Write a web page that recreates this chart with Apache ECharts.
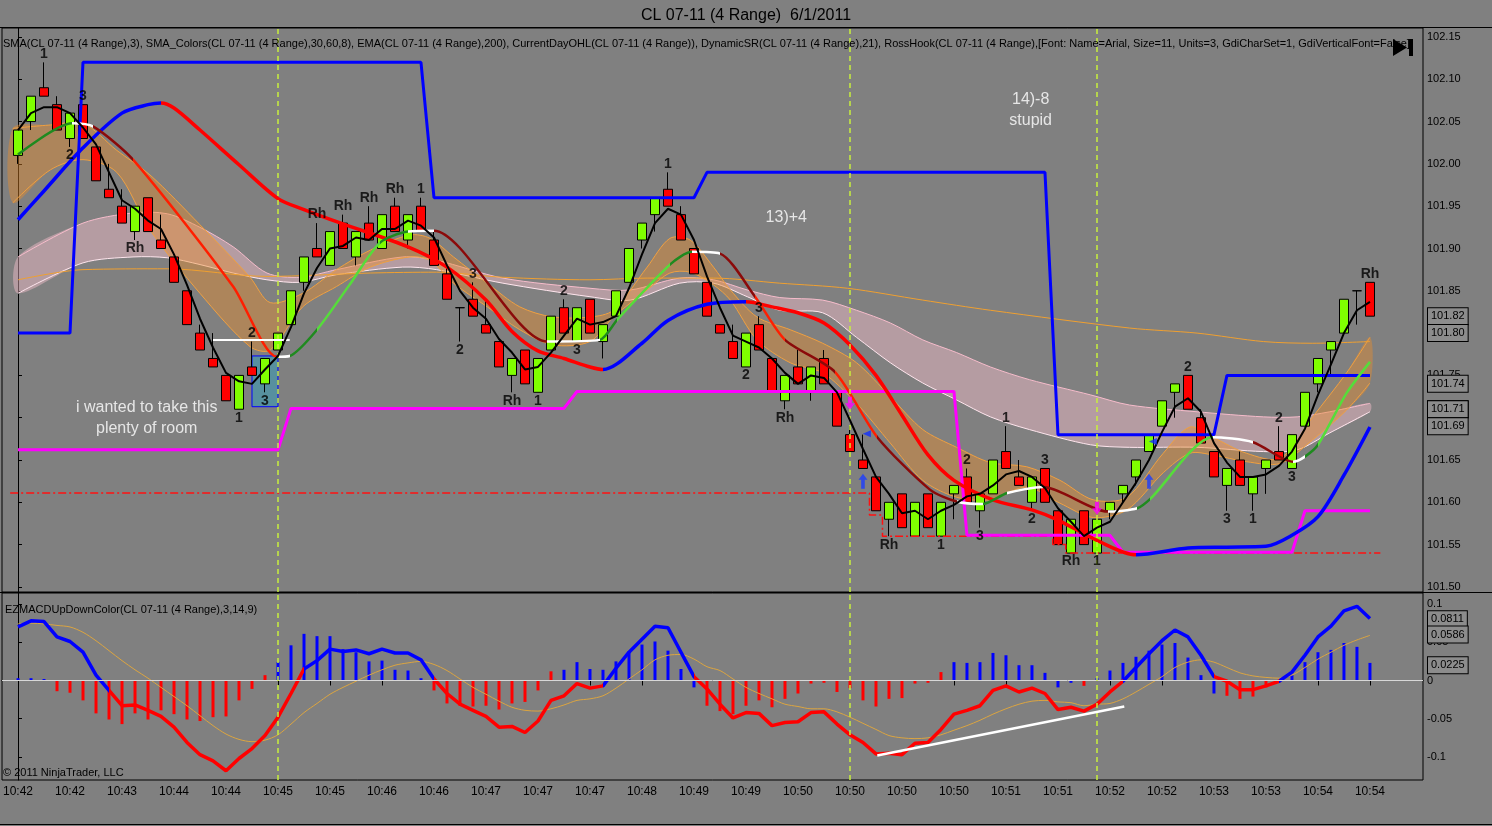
<!DOCTYPE html>
<html>
<head>
<meta charset="utf-8">
<title>CL 07-11 (4 Range) 6/1/2011</title>
<script src="https://cdn.jsdelivr.net/npm/echarts@6/dist/echarts.min.js"></script>
<style>
  html, body { margin: 0; padding: 0; background: #808080; }
  #main { width: 1492px; height: 826px; }
</style>
</head>
<body>
<div id="main"></div>
<script type="text/javascript">
// ---- data ----
// time label every 4th bar
const timeLabels = ['10:42', '10:42', '10:43', '10:44', '10:44', '10:45', '10:45', '10:46', '10:46',
  '10:47', '10:47', '10:47', '10:48', '10:49', '10:49', '10:50', '10:50', '10:50', '10:50',
  '10:51', '10:51', '10:52', '10:52', '10:53', '10:53', '10:54', '10:54'];

// range bars: [open, close, low, high]
const candles = [
  [102.01, 102.04, 102.00, 102.04], [102.05, 102.08, 102.04, 102.08], [102.09, 102.08, 102.08, 102.12],
  [102.07, 102.04, 102.04, 102.08], [102.03, 102.06, 102.02, 102.06], [102.07, 102.03, 102.03, 102.07],
  [102.02, 101.98, 101.98, 102.02], [101.97, 101.96, 101.96, 102.00], [101.95, 101.93, 101.93, 101.97],
  [101.92, 101.95, 101.91, 101.95], [101.96, 101.92, 101.92, 101.96], [101.91, 101.90, 101.90, 101.94],
  [101.89, 101.86, 101.86, 101.89], [101.85, 101.81, 101.81, 101.85], [101.80, 101.78, 101.78, 101.81],
  [101.77, 101.76, 101.76, 101.80], [101.75, 101.72, 101.72, 101.75], [101.71, 101.75, 101.71, 101.75],
  [101.76, 101.75, 101.75, 101.79], [101.74, 101.77, 101.73, 101.77], [101.78, 101.80, 101.78, 101.80],
  [101.81, 101.85, 101.81, 101.85], [101.86, 101.89, 101.85, 101.89], [101.90, 101.89, 101.89, 101.93],
  [101.88, 101.92, 101.88, 101.92], [101.93, 101.90, 101.90, 101.94], [101.89, 101.92, 101.88, 101.92],
  [101.93, 101.91, 101.91, 101.95], [101.90, 101.94, 101.90, 101.94], [101.95, 101.92, 101.92, 101.96],
  [101.91, 101.94, 101.90, 101.94], [101.95, 101.92, 101.92, 101.96], [101.91, 101.88, 101.88, 101.92],
  [101.87, 101.84, 101.84, 101.88], [101.83, 101.83, 101.79, 101.83], [101.84, 101.82, 101.82, 101.86],
  [101.81, 101.80, 101.80, 101.84], [101.79, 101.76, 101.76, 101.79], [101.75, 101.77, 101.73, 101.77],
  [101.78, 101.74, 101.74, 101.78], [101.73, 101.77, 101.73, 101.77], [101.78, 101.82, 101.78, 101.82],
  [101.83, 101.80, 101.80, 101.84], [101.79, 101.83, 101.79, 101.83], [101.84, 101.80, 101.80, 101.84],
  [101.79, 101.81, 101.77, 101.81], [101.82, 101.85, 101.82, 101.85], [101.86, 101.90, 101.86, 101.90],
  [101.91, 101.93, 101.90, 101.93], [101.94, 101.96, 101.92, 101.96], [101.97, 101.95, 101.95, 101.99],
  [101.94, 101.91, 101.91, 101.95], [101.90, 101.87, 101.87, 101.90], [101.86, 101.82, 101.82, 101.86],
  [101.81, 101.80, 101.80, 101.81], [101.79, 101.77, 101.77, 101.81], [101.76, 101.80, 101.76, 101.80],
  [101.81, 101.78, 101.78, 101.82], [101.77, 101.73, 101.73, 101.77], [101.72, 101.75, 101.71, 101.75],
  [101.76, 101.74, 101.74, 101.78], [101.73, 101.76, 101.72, 101.76], [101.77, 101.74, 101.74, 101.78],
  [101.73, 101.69, 101.69, 101.73], [101.68, 101.66, 101.66, 101.69], [101.65, 101.64, 101.64, 101.68],
  [101.63, 101.59, 101.59, 101.63], [101.58, 101.60, 101.56, 101.60], [101.61, 101.57, 101.57, 101.61],
  [101.56, 101.60, 101.56, 101.60], [101.61, 101.57, 101.57, 101.61], [101.56, 101.60, 101.56, 101.60],
  [101.61, 101.62, 101.58, 101.62], [101.63, 101.60, 101.60, 101.64], [101.59, 101.61, 101.57, 101.61],
  [101.61, 101.65, 101.61, 101.65], [101.66, 101.64, 101.64, 101.69], [101.63, 101.62, 101.62, 101.65],
  [101.60, 101.63, 101.59, 101.63], [101.64, 101.60, 101.60, 101.64], [101.59, 101.55, 101.55, 101.59],
  [101.54, 101.58, 101.54, 101.58], [101.59, 101.55, 101.55, 101.59], [101.54, 101.58, 101.54, 101.58],
  [101.59, 101.60, 101.58, 101.60], [101.61, 101.62, 101.60, 101.62], [101.63, 101.65, 101.62, 101.65],
  [101.66, 101.68, 101.66, 101.68], [101.69, 101.72, 101.69, 101.72], [101.73, 101.74, 101.70, 101.74],
  [101.75, 101.71, 101.71, 101.75], [101.70, 101.67, 101.67, 101.71], [101.66, 101.63, 101.63, 101.66],
  [101.62, 101.64, 101.59, 101.64], [101.65, 101.62, 101.62, 101.66], [101.61, 101.63, 101.59, 101.63],
  [101.64, 101.65, 101.61, 101.65], [101.66, 101.65, 101.65, 101.69], [101.64, 101.68, 101.64, 101.68],
  [101.69, 101.73, 101.69, 101.73], [101.74, 101.77, 101.73, 101.77], [101.78, 101.79, 101.75, 101.79],
  [101.80, 101.84, 101.80, 101.84], [101.85, 101.85, 101.81, 101.85], [101.86, 101.82, 101.82, 101.86]
];

// black SMA(3), one value per bar
const sma3 = [
  102.040, 102.060, 102.067, 102.067, 102.060, 102.043, 102.023, 101.990, 101.957, 101.947,
  101.933, 101.923, 101.893, 101.857, 101.817, 101.783, 101.753, 101.743, 101.740, 101.757,
  101.773, 101.807, 101.847, 101.877, 101.900, 101.903, 101.913, 101.910, 101.923, 101.923,
  101.933, 101.927, 101.913, 101.880, 101.850, 101.830, 101.817, 101.793, 101.777, 101.757,
  101.760, 101.777, 101.797, 101.817, 101.810, 101.813, 101.820, 101.853, 101.893, 101.930,
  101.947, 101.940, 101.910, 101.867, 101.830, 101.797, 101.790, 101.783, 101.770, 101.753,
  101.740, 101.750, 101.747, 101.730, 101.697, 101.663, 101.630, 101.610, 101.587, 101.590,
  101.580, 101.590, 101.597, 101.607, 101.610, 101.620, 101.633, 101.637, 101.630, 101.617,
  101.593, 101.577, 101.560, 101.570, 101.577, 101.600, 101.623, 101.650, 101.683, 101.713,
  101.723, 101.707, 101.670, 101.647, 101.630, 101.630, 101.633, 101.643, 101.660, 101.687,
  101.727, 101.763, 101.800, 101.827, 101.837
];

// thick slow average (blue rising / red falling): [bar, price]
const slowSma = [
  [0, 101.934], [2, 101.968], [5, 102.019], [8, 102.060], [10, 102.070], [11, 102.072], [12, 102.066],
  [14, 102.040], [17, 101.999], [20, 101.959], [22, 101.946], [25, 101.929], [30, 101.902], [33, 101.878],
  [36, 101.839], [38, 101.802], [40, 101.779], [42, 101.770], [44, 101.760], [45, 101.757], [48, 101.788],
  [50, 101.815], [53, 101.834], [56, 101.837], [58, 101.831], [60, 101.824], [62, 101.812], [64, 101.786],
  [66, 101.750], [68, 101.703], [70, 101.656], [72, 101.626], [75, 101.603], [78, 101.591], [80, 101.579],
  [83, 101.555], [86, 101.538], [90, 101.546], [93, 101.547], [96, 101.548], [98, 101.561], [100, 101.583],
  [102, 101.632], [104, 101.689]
];

// SMA_Colors middle line: [bar, price]; trend of each segment (2 up fast, 1 up, 0 flat, -1 down, -2 down fast)
const midSma = [
  [0, 102.011], [4.15, 102.048], [5.8, 102.044], [8.85, 102.005], [16.55, 101.855], [19.9, 101.772],
  [20.9, 101.773], [23, 101.804], [25.5, 101.857], [27.85, 101.907], [30, 101.920], [32, 101.921],
  [40.7, 101.790], [44.75, 101.792], [46.1, 101.816], [50.15, 101.881], [51.85, 101.896], [54, 101.894],
  [56.7, 101.843], [59, 101.792], [62.85, 101.754], [66.1, 101.677], [70.15, 101.615], [72.2, 101.601],
  [74.2, 101.598], [76.1, 101.611], [78.85, 101.618], [83.85, 101.589], [86.1, 101.593], [87.1, 101.604],
  [91.9, 101.677], [95, 101.671], [98.1, 101.648], [99, 101.654], [100, 101.668], [102.2, 101.729],
  [104, 101.766]
];
const midTrend = [1, 0, -1, -2, -2, 0, 1, 2, 2, 1, 0, -1, 0, 1, 2, 1, 0, -1, -2, -1, -2, -1, -1, 0, 1, 0,
  -1, 0, 1, 2, 0, -1, 0, 1, 2, 2];

// EMA(200) thin orange line
const ema200 = [
  [0, 101.863], [5, 101.875], [11.5, 101.876], [19.15, 101.867], [27.1, 101.871], [32.2, 101.872],
  [37.3, 101.866], [44, 101.863], [48.4, 101.865], [53.5, 101.865], [58.6, 101.859], [63.8, 101.853],
  [69.6, 101.839], [74.8, 101.827], [85.5, 101.806], [90.7, 101.800], [95.8, 101.790], [99.6, 101.788],
  [104, 101.790]
];

// orange envelope: [bar, upper, lower]
const orangeBand = [
  [-0.4, 102.042, 101.954], [2.5, 102.046, 101.993], [5, 102.048, 102.005], [7.6, 102.016, 101.990],
  [10.15, 101.987, 101.922], [14, 101.928, 101.847], [17.85, 101.866, 101.784], [19.4, 101.836, 101.780],
  [21.9, 101.847, 101.831], [24.5, 101.875, 101.855], [27.1, 101.898, 101.878], [30.15, 101.916, 101.890],
  [31.7, 101.912, 101.886], [33.5, 101.890, 101.859], [36.1, 101.859, 101.831], [38.6, 101.831, 101.804],
  [41.15, 101.819, 101.786], [44, 101.819, 101.790], [45.8, 101.827, 101.819], [48.4, 101.878, 101.851],
  [50.15, 101.912, 101.871], [51.7, 101.910, 101.872], [53.5, 101.878, 101.857], [54.8, 101.851, 101.839],
  [56.85, 101.819, 101.792], [59.4, 101.804, 101.765], [61.9, 101.788, 101.753], [64.5, 101.765, 101.717],
  [67.1, 101.725, 101.670], [69.6, 101.686, 101.626], [72.2, 101.665, 101.606], [74.8, 101.647, 101.603],
  [77.6, 101.642, 101.618], [80.15, 101.626, 101.599], [82.7, 101.603, 101.582], [85.3, 101.606, 101.591],
  [88.1, 101.658, 101.635], [90.15, 101.689, 101.658], [91.9, 101.677, 101.656], [94.5, 101.658, 101.648],
  [97.1, 101.652, 101.646], [99.6, 101.701, 101.674], [102.2, 101.753, 101.709], [104, 101.795, 101.741]
];

// pink envelope: [bar, upper, lower]
const pinkBand = [
  [0, 101.890, 101.847], [5, 101.930, 101.883], [8.85, 101.942, 101.890], [11.5, 101.941, 101.889],
  [14, 101.925, 101.881], [16.55, 101.902, 101.871], [19.15, 101.871, 101.863], [21.7, 101.866, 101.860],
  [24.5, 101.875, 101.869], [29.6, 101.890, 101.878], [32.2, 101.886, 101.875], [37.3, 101.865, 101.859],
  [44, 101.853, 101.843], [47.1, 101.851, 101.839], [50.9, 101.865, 101.859], [53.5, 101.863, 101.859],
  [56.1, 101.851, 101.843], [58.6, 101.842, 101.827], [61.9, 101.839, 101.824], [64.5, 101.827, 101.795],
  [67.1, 101.812, 101.765], [69.6, 101.792, 101.741], [72.2, 101.777, 101.721], [74.8, 101.760, 101.701],
  [77.8, 101.745, 101.686], [82.5, 101.727, 101.668], [85.5, 101.715, 101.665], [90.7, 101.707, 101.665],
  [95.8, 101.701, 101.660], [98.4, 101.701, 101.662], [100.9, 101.707, 101.682], [104, 101.717, 101.707]
];

// DynamicSR steps
const resistance = [[0, 101.80], [4, 101.80], [5, 102.12], [31, 102.12], [32, 101.96], [52, 101.96],
  [53, 101.99], [79, 101.99], [80, 101.68], [92, 101.68], [93, 101.75], [104, 101.75]];
const support = [[0, 101.662], [20, 101.662], [21, 101.711], [42, 101.711], [43, 101.731], [72, 101.731],
  [73, 101.561], [84, 101.561], [85, 101.541], [98, 101.541], [99, 101.59], [104, 101.59]];
// CurrentDayOHL low (step)
const dayLow = [[-0.6, 101.611], [65.5, 101.585], [66.5, 101.56], [79.6, 101.55], [80.6, 101.54], [104.8, 101.54]];

// RossHook labels: [bar, text, a = above high / b = below low]
const hookLabels = [
  [2, '1', 'a'], [4, '2', 'b'], [5, '3', 'a'], [9, 'Rh', 'b'], [17, '1', 'b'], [18, '2', 'a'], [19, '3', 'b'],
  [23, 'Rh', 'a'], [25, 'Rh', 'a'], [27, 'Rh', 'a'], [29, 'Rh', 'a'], [31, '1', 'a'], [34, '2', 'b'],
  [35, '3', 'a'], [38, 'Rh', 'b'], [40, '1', 'b'], [42, '2', 'a'], [43, '3', 'b'], [50, '1', 'a'],
  [56, '2', 'b'], [57, '3', 'a'], [59, 'Rh', 'b'], [67, 'Rh', 'b'], [71, '1', 'b'], [73, '2', 'a'],
  [74, '3', 'b'], [76, '1', 'a'], [78, '2', 'b'], [79, '3', 'a'], [81, 'Rh', 'b'], [83, '1', 'b'],
  [90, '2', 'a'], [93, '3', 'b'], [95, '1', 'b'], [97, '2', 'a'], [98, '3', 'b'], [104, 'Rh', 'a']
];
const upArrows = [[65, 101.625], [87, 101.625]];
const blueFlags = [[65.3, 101.681], [87.3, 101.672]];
const magentaMarks = [[64, 101.717], [83, 101.593]];
const notes = [[9.9, 101.70, 'i wanted to take this\nplenty of room'], [59.1, 101.937, '13)+4'],
  [77.9, 102.063, '14)-8\nstupid']];
const entryBox = [[18, 101.773], [20, 101.713]];
const entryLine = [[15, 101.792], [20.9, 101.792]];
const markerBars = [20, 64, 83];
const priceBoxes = [101.816, 101.797, 101.740, 101.714, 101.708, 101.691];
const priceTicks = [101.50, 101.55, 101.60, 101.65, 101.70, 101.75, 101.80, 101.85, 101.90, 101.95,
  102.00, 102.05, 102.10, 102.15];

// EZMACD panel, one value per bar
const macd = [
  0.070, 0.078, 0.077, 0.057, 0.051, 0.037, 0.007, -0.013, -0.033, -0.032,
  -0.039, -0.047, -0.061, -0.081, -0.097, -0.105, -0.118, -0.102, -0.089, -0.072,
  -0.048, -0.017, 0.015, 0.026, 0.041, 0.038, 0.040, 0.035, 0.041, 0.036,
  0.036, 0.027, 0.002, -0.017, -0.031, -0.039, -0.047, -0.061, -0.060, -0.068,
  -0.053, -0.026, -0.020, -0.004, -0.010, -0.007, 0.016, 0.037, 0.054, 0.071,
  0.069, 0.037, 0.005, -0.011, -0.031, -0.049, -0.042, -0.043, -0.059, -0.055,
  -0.054, -0.042, -0.041, -0.057, -0.071, -0.081, -0.096, -0.095, -0.097, -0.082,
  -0.081, -0.064, -0.044, -0.039, -0.033, -0.013, -0.007, -0.015, -0.010, -0.017,
  -0.038, -0.035, -0.040, -0.031, -0.015, -0.001, 0.017, 0.035, 0.052, 0.066,
  0.057, 0.033, 0.005, -0.001, -0.012, -0.012, -0.007, -0.001, 0.011, 0.033,
  0.057, 0.071, 0.091, 0.097, 0.081
];
const signal = [
  0.074, 0.075, 0.074, 0.072, 0.070, 0.063, 0.052, 0.039, 0.026, 0.014,
  0.003, -0.009, -0.021, -0.033, -0.046, -0.059, -0.070, -0.077, -0.080, -0.078,
  -0.071, -0.057, -0.042, -0.030, -0.018, -0.009, -0.001, 0.007, 0.014, 0.020,
  0.023, 0.025, 0.021, 0.013, 0.002, -0.009, -0.018, -0.027, -0.035, -0.039,
  -0.040, -0.037, -0.032, -0.026, -0.024, -0.020, -0.010, 0.002, 0.014, 0.027,
  0.033, 0.034, 0.028, 0.018, 0.013, 0.002, -0.009, -0.017, -0.024, -0.031,
  -0.034, -0.037, -0.037, -0.041, -0.048, -0.056, -0.064, -0.072, -0.075, -0.076,
  -0.075, -0.071, -0.065, -0.059, -0.052, -0.044, -0.037, -0.031, -0.027, -0.026,
  -0.028, -0.029, -0.033, -0.031, -0.030, -0.024, -0.015, -0.005, 0.005, 0.017,
  0.024, 0.027, 0.024, 0.017, 0.010, 0.006, 0.004, 0.003, 0.007, 0.017,
  0.028, 0.037, 0.046, 0.053, 0.059
];
const hist = [
  0.003, 0.003, 0.002, -0.014, -0.016, -0.026, -0.043, -0.051, -0.057, -0.043,
  -0.051, -0.039, -0.044, -0.051, -0.053, -0.048, -0.047, -0.026, -0.011, 0.007,
  0.024, 0.046, 0.061, 0.058, 0.058, 0.041, 0.037, 0.025, 0.026, 0.014,
  0.013, 0.003, -0.013, -0.030, -0.033, -0.034, -0.033, -0.038, -0.030, -0.028,
  -0.013, 0.012, 0.014, 0.024, 0.015, 0.014, 0.025, 0.038, 0.047, 0.051,
  0.039, 0.015, -0.009, -0.033, -0.040, -0.044, -0.033, -0.026, -0.035, -0.024,
  -0.017, -0.004, -0.003, -0.015, -0.010, -0.026, -0.034, -0.024, -0.023, -0.004,
  -0.003, 0.011, 0.024, 0.023, 0.024, 0.036, 0.033, 0.020, 0.020, 0.010,
  -0.009, -0.003, -0.007, 0.003, 0.013, 0.023, 0.031, 0.039, 0.047, 0.049,
  0.030, 0.007, -0.017, -0.020, -0.024, -0.021, -0.009, -0.003, 0.007, 0.024,
  0.037, 0.040, 0.049, 0.044, 0.023
];
// histogram colour state as runs: b = up colour, r = down colour
const histRuns = [['b', 3], ['r', 17], ['b', 12], ['r', 10], ['b', 11], ['r', 19], ['b', 10], ['r', 1],
  ['b', 10], ['r', 5], ['b', 7]];
// bar ranges where the MACD line is drawn blue
const macdBlue = [[0, 7], [22, 32], [45, 52], [85, 92], [97, 104]];
const macdTrend = [[66.1, -0.098], [85.1, -0.034]];
const macdBoxes = [0.0811, 0.0586, 0.0225];
const macdTicks = [-0.1, -0.05, 0, 0.05, 0.1];

// ---- chart ----
const FONT = '"Liberation Sans", Arial, sans-serif';
const X_MIN = -1.23, X_MAX = 108.08;
const BLUE = '#0000ff', RED = '#ff0000';
const trendColor = { '2': '#55dd3a', '1': '#1f8a1f', '0': '#ffffff', '-1': '#8b0a0a', '-2': '#ff1e00' };

const myChart = echarts.init(document.getElementById('main'));

const perBar = arr => arr.map((v, i) => [i, v]);
const histColors = [];
histRuns.forEach(r => { for (let k = 0; k < r[1]; k++) histColors.push(r[0] === 'b' ? BLUE : RED); });

// colours applied between successive x breakpoints
function xPieces(xs, colors) {
  const pieces = [];
  colors.forEach((c, k) => {
    const lo = k === 0 ? X_MIN - 5 : xs[k];
    const hi = k === colors.length - 1 ? X_MAX + 5 : xs[k + 1];
    const last = pieces[pieces.length - 1];
    if (last && last.color === c) { last.lt = hi; return; }
    pieces.push({ gte: lo, lt: hi, color: c });
  });
  return pieces;
}

function bandSeries(band, fill, topEdge, bottomEdge) {
  return {
    type: 'custom', xAxisIndex: 0, yAxisIndex: 0, z: 1, silent: true, clip: true,
    data: [[0, 101.8]],
    renderItem: function (params, api) {
      const top = band.map(p => api.coord([p[0], p[1]]));
      const bot = band.map(p => api.coord([p[0], p[2]]));
      return {
        type: 'group',
        children: [
          { type: 'polygon', shape: { points: top.concat(bot.slice().reverse()), smooth: 0.3 }, style: { fill: fill } },
          { type: 'polyline', shape: { points: top, smooth: 0.3 }, style: { stroke: topEdge, lineWidth: 1, fill: null } },
          { type: 'polyline', shape: { points: bot, smooth: 0.3 }, style: { stroke: bottomEdge, lineWidth: 1, fill: null } }
        ]
      };
    }
  };
}

// value box on the right axis, placed by the axis scale
function valueBox(v, digits) {
  return {
    yAxis: v,
    lineStyle: { color: 'rgba(0,0,0,0)', width: 0 },
    label: {
      show: true, position: 'end', distance: 5, formatter: v.toFixed(digits), color: '#000', fontSize: 11,
      fontFamily: FONT, backgroundColor: '#8c8c8c', borderColor: '#000', borderWidth: 1, padding: [3, 3, 2, 3]
    }
  };
}

const series = [];
const add = s => { series.push(s); return series.length - 1; };

add(bandSeries(pinkBand, 'rgba(255,195,210,0.42)', '#f6bccb', '#ffe6ee'));
add(bandSeries(orangeBand, 'rgba(236,140,40,0.42)', '#f0a040', '#f0a040'));

add({
  name: 'EMA', type: 'line', data: ema200, smooth: 0.3, showSymbol: false, z: 2, silent: true,
  lineStyle: { color: '#f0a030', width: 1 }
});

add({
  type: 'candlestick', data: candles.map((c, i) => [i, c[0], c[1], c[2], c[3]]),
  encode: { x: 0, y: [1, 2, 3, 4] }, barWidth: 9, z: 3, silent: true,
  itemStyle: { color: '#80ff00', color0: '#ff0000', borderColor: '#000', borderColor0: '#000', borderWidth: 1 },
  markArea: {
    silent: true,
    itemStyle: { color: 'rgba(20,170,210,0.38)', borderColor: '#0000ff', borderWidth: 1 },
    data: [[{ coord: entryBox[0] }, { coord: entryBox[1] }]]
  },
  markLine: {
    silent: true, symbol: ['none', 'none'], animation: false, label: { show: false },
    lineStyle: { color: '#c8f03c', type: [5, 4], width: 1.5 },
    data: markerBars.map(b => ({ xAxis: b }))
  }
});

add({ type: 'line', data: dayLow, step: 'end', showSymbol: false, z: 4, silent: true,
  lineStyle: { color: '#ff1010', width: 1.5, type: [8, 3, 2, 3] } });
add({ type: 'line', data: resistance, showSymbol: false, z: 4, silent: true, lineStyle: { color: BLUE, width: 3 } });
add({ type: 'line', data: support, showSymbol: false, z: 4, silent: true, lineStyle: { color: '#ff00ff', width: 3 } });

const slowIdx = add({ type: 'line', data: slowSma, smooth: 0.3, showSymbol: false, z: 4, silent: true,
  lineStyle: { width: 3.5 } });
const midIdx = add({ type: 'line', data: midSma, smooth: 0.25, showSymbol: false, z: 4, silent: true,
  lineStyle: { width: 2.5 } });

add({
  type: 'line', data: perBar(sma3), showSymbol: false, z: 5, silent: true, lineStyle: { color: '#000', width: 2 },
  markLine: {
    silent: true, symbol: ['none', 'none'], animation: false, label: { show: false },
    lineStyle: { color: '#fff', width: 2, type: 'solid' },
    data: [[{ coord: entryLine[0] }, { coord: entryLine[1] }]]
  }
});

add({
  type: 'scatter', symbolSize: 1, itemStyle: { color: 'rgba(0,0,0,0)' }, z: 6, silent: true,
  label: { show: true, formatter: p => p.value[2], distance: 1, color: '#000', fontWeight: 'bold', fontSize: 14, fontFamily: FONT },
  data: hookLabels.map(h => {
    const c = candles[h[0]];
    const above = h[2] === 'a';
    return { value: [h[0], above ? c[3] : c[2], h[1]], label: { position: above ? 'top' : 'bottom' } };
  })
});
add({
  type: 'scatter', symbolSize: 1, itemStyle: { color: 'rgba(0,0,0,0)' }, z: 6, silent: true,
  label: { show: true, position: 'inside', formatter: p => p.value[2], color: '#fff', fontSize: 16, lineHeight: 21, align: 'center', fontFamily: FONT },
  data: notes
});
add({ type: 'scatter', data: upArrows, z: 6, silent: true, symbol: 'path://M5,0 L10,6 L7,6 L7,15 L3,15 L3,6 L0,6 Z',
  symbolSize: [9, 15], itemStyle: { color: '#1a3cff' } });
add({ type: 'scatter', data: blueFlags, z: 6, silent: true, symbol: 'triangle', symbolRotate: 90,
  symbolSize: [7, 8], itemStyle: { color: '#1030ff' } });
add({ type: 'scatter', data: magentaMarks, z: 6, silent: true, symbol: 'path://M3,0 L7,0 L7,6 L10,6 L5,12 L0,6 L3,6 Z',
  symbolSize: [10, 13], itemStyle: { color: '#ff00ff' } });

// price boxes (drawn after everything so they cover the axis labels)
add({
  type: 'line', data: [], z: 10, silent: true,
  markLine: { silent: true, symbol: ['none', 'none'], animation: false, z: 10, data: priceBoxes.map(v => valueBox(v, 2)) }
});

// lower panel
add({
  type: 'bar', xAxisIndex: 1, yAxisIndex: 1, data: perBar(hist), barWidth: 3, z: 2, silent: true,
  itemStyle: { color: p => histColors[p.dataIndex] },
  markLine: {
    silent: true, symbol: ['none', 'none'], animation: false, label: { show: false },
    data: [{ yAxis: 0, lineStyle: { color: '#d8d8d8', width: 1, type: 'solid' } }].concat(
      markerBars.map(b => ({ xAxis: b, lineStyle: { color: '#c8f03c', type: [5, 4], width: 1.5 } })))
  }
});
add({
  type: 'line', xAxisIndex: 1, yAxisIndex: 1, data: perBar(signal), smooth: 0.3, showSymbol: false, z: 3, silent: true,
  lineStyle: { color: '#dca540', width: 1 }
});
const macdIdx = add({
  type: 'line', xAxisIndex: 1, yAxisIndex: 1, data: perBar(macd), showSymbol: false, z: 4, silent: true,
  lineStyle: { width: 3.5 },
  markLine: {
    silent: true, symbol: ['none', 'none'], animation: false, label: { show: false },
    lineStyle: { color: '#fff', width: 2.5, type: 'solid' },
    data: [[{ coord: macdTrend[0] }, { coord: macdTrend[1] }]]
  }
});
add({
  type: 'line', xAxisIndex: 1, yAxisIndex: 1, data: [], z: 10, silent: true,
  markLine: { silent: true, symbol: ['none', 'none'], animation: false, z: 10, data: macdBoxes.map(v => valueBox(v, 4)) }
});

// line colouring
const slowColors = slowSma.slice(1).map((p, k) => (p[1] >= slowSma[k][1] ? BLUE : RED));
const midColors = midTrend.map(t => trendColor[String(t)]);
const macdColors = macd.slice(1).map((v, k) => (macdBlue.some(r => k >= r[0] && k + 1 <= r[1]) ? BLUE : RED));

const labelBars = timeLabels.map((t, k) => k * 4);

const option = {
  backgroundColor: '#808080',
  animation: false,
  textStyle: { fontFamily: FONT },
  title: {
    text: 'CL 07-11 (4 Range)  6/1/2011', left: 'center', top: 3,
    textStyle: { fontSize: 16, fontWeight: 'normal', color: '#000', fontFamily: FONT }
  },
  grid: [
    { left: 2, top: 28, width: 1421, height: 564, show: true, borderColor: '#000', borderWidth: 1, backgroundColor: 'transparent' },
    { left: 2, top: 593, width: 1421, height: 187, show: true, borderColor: '#000', borderWidth: 1, backgroundColor: 'transparent' }
  ],
  xAxis: [
    { type: 'value', gridIndex: 0, min: X_MIN, max: X_MAX, show: false },
    {
      type: 'value', gridIndex: 1, min: X_MIN, max: X_MAX,
      axisLine: { show: true, lineStyle: { color: '#000' } },
      axisTick: { show: true, customValues: labelBars, length: 5, lineStyle: { color: '#000' } },
      axisLabel: { customValues: labelBars, formatter: v => timeLabels[Math.round(v / 4)], color: '#000', fontSize: 12, margin: 6 },
      splitLine: { show: false }
    }
  ],
  yAxis: [
    {
      type: 'value', gridIndex: 0, position: 'right', min: 101.494, max: 102.1606,
      axisLine: { show: true, lineStyle: { color: '#000' } },
      axisTick: { show: true, customValues: priceTicks, length: 4, lineStyle: { color: '#000' } },
      axisLabel: { customValues: priceTicks, formatter: v => v.toFixed(2), color: '#000', fontSize: 11, margin: 4 },
      splitLine: { show: false }
    },
    {
      type: 'value', gridIndex: 1, position: 'right', min: -0.1301, max: 0.1144,
      axisLine: { show: true, lineStyle: { color: '#000' } },
      axisTick: { show: true, customValues: macdTicks, length: 4, lineStyle: { color: '#000' } },
      axisLabel: { customValues: macdTicks, formatter: v => String(v), color: '#000', fontSize: 11, margin: 4 },
      splitLine: { show: false }
    }
  ],
  visualMap: [
    { type: 'piecewise', show: false, dimension: 0, seriesIndex: slowIdx, pieces: xPieces(slowSma.map(p => p[0]), slowColors) },
    { type: 'piecewise', show: false, dimension: 0, seriesIndex: midIdx, pieces: xPieces(midSma.map(p => p[0]), midColors) },
    { type: 'piecewise', show: false, dimension: 0, seriesIndex: macdIdx, pieces: xPieces(macd.map((v, i) => i), macdColors) }
  ],
  graphic: [
    { type: 'line', shape: { x1: 0, y1: 27.5, x2: 1492, y2: 27.5 }, style: { stroke: '#000', lineWidth: 1 }, z: 100 },
    { type: 'line', shape: { x1: 0, y1: 592.5, x2: 1492, y2: 592.5 }, style: { stroke: '#000', lineWidth: 1 }, z: 100 },
    { type: 'line', shape: { x1: 0, y1: 824.5, x2: 1492, y2: 824.5 }, style: { stroke: '#000', lineWidth: 1 }, z: 100 },
    {
      type: 'text', left: 3, top: 38, z: 100,
      style: {
        text: 'SMA(CL 07-11 (4 Range),3), SMA_Colors(CL 07-11 (4 Range),30,60,8), EMA(CL 07-11 (4 Range),200), CurrentDayOHL(CL 07-11 (4 Range)), DynamicSR(CL 07-11 (4 Range),21), RossHook(CL 07-11 (4 Range),[Font: Name=Arial, Size=11, Units=3, GdiCharSet=1, GdiVerticalFont=False],',
        fill: '#000', font: '11px ' + FONT
      }
    },
    { type: 'polygon', shape: { points: [[1393, 39], [1393, 56], [1407, 47.5]] }, style: { fill: '#000' }, z: 101 },
    { type: 'rect', shape: { x: 1409, y: 39, width: 4, height: 17 }, style: { fill: '#000' }, z: 101 },
    { type: 'text', left: 5, top: 604, z: 100, style: { text: 'EZMACDUpDownColor(CL 07-11 (4 Range),3,14,9)', fill: '#000', font: '11px ' + FONT } },
    { type: 'text', left: 3, top: 767, z: 100, style: { text: '\u00a9 2011 NinjaTrader, LLC', fill: '#000', font: '11px ' + FONT } }
  ],
  series: series
};

myChart.setOption(option);
</script>
</body>
</html>
